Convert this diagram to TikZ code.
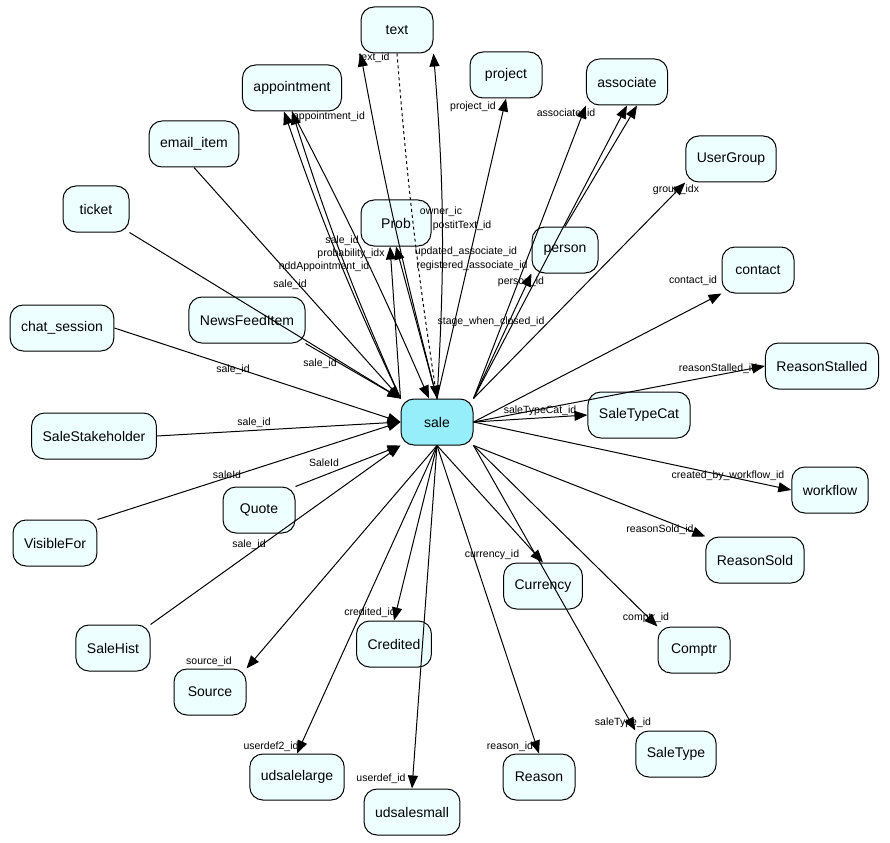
\documentclass[tikz,border=0pt]{standalone}
\usepackage{fontspec}
\setmainfont{Liberation Sans}
\usetikzlibrary{arrows.meta}
\definecolor{lc}{RGB}{238,255,255}
\definecolor{sc}{RGB}{150,238,250}
\begin{document}
\begin{tikzpicture}[x=1pt,y=-1pt,
 ent/.style={draw=black,line width=1pt,rounded corners=13pt,fill=lc,minimum height=46pt,minimum width=66pt,inner xsep=11pt,font=\fontsize{14}{16}\selectfont},
 lab/.style={font=\fontsize{10.5}{12}\selectfont,inner sep=0.5pt},
 e/.style={-{Triangle[length=13pt,width=10pt]},line width=1pt}]
\useasboundingbox (0,0) rectangle (890,842);
\node[ent,fill=sc,minimum width=72pt] (sale) at (437,422) {sale};
\node[ent,minimum width=72pt] (text) at (397,30) {text};
\node[ent] (appointment) at (292,88) {appointment};
\node[ent,minimum width=72pt] (project) at (506,75) {project};
\node[ent] (associate) at (627,82) {associate};
\node[ent] (UserGroup) at (731,159) {UserGroup};
\node[ent] (email) at (194,144) {email\_item};
\node[ent] (ticket) at (96,209) {ticket};
\node[ent,minimum width=70pt] (Prob) at (396,223) {Prob};
\node[ent] (person) at (565,250) {person};
\node[ent,minimum width=72pt] (contact) at (758,270) {contact};
\node[ent] (chat) at (62,328) {chat\_session};
\node[ent] (News) at (247,320) {NewsFeedItem};
\node[ent] (RStalled) at (822,366) {ReasonStalled};
\node[ent] (STC) at (639,415) {SaleTypeCat};
\node[ent] (SSH) at (94,436) {SaleStakeholder};
\node[ent,minimum width=72pt] (workflow) at (830,490) {workflow};
\node[ent,minimum width=72pt] (Quote) at (259,510) {Quote};
\node[ent] (Visible) at (55,543) {VisibleFor};
\node[ent] (RSold) at (755,560) {ReasonSold};
\node[ent] (Currency) at (543,586) {Currency};
\node[ent] (Credited) at (394,644) {Credited};
\node[ent,minimum width=72pt] (Comptr) at (694,650) {Comptr};
\node[ent,minimum width=72pt] (SaleHist) at (113,648) {SaleHist};
\node[ent,minimum width=72pt] (Source) at (210,692) {Source};
\node[ent] (SaleType) at (676,754) {SaleType};
\node[ent] (udl) at (297,777) {udsalelarge};
\node[ent,minimum width=72pt] (Reason) at (539,777) {Reason};
\node[ent] (uds) at (412,812) {udsalesmall};
% edges out of sale
\draw[e] (sale.north) to[bend left=2] (text.south west);
\draw[e] (sale.north) to[bend right=4] (text.south east);
\draw[e,dashed] (text.south) to[bend right=2] (sale.north);
\draw[e] (sale.north west) to[bend left=3] (appointment.south);
\draw[e] (sale.north west) to[bend left=3] ([xshift=-8pt]appointment.south);
\draw[e] (appointment.south) to[bend left=2] ([xshift=-8pt]sale.north);
\draw[e] (sale.north) to (Prob.south);
\draw[e] (sale.north west) to ([xshift=-6pt]Prob.south);
\draw[e] (sale.north) to (project.south);
\draw[e] (sale.north east) to (associate.south west);
\draw[e] (sale.north east) to (associate.south);
\draw[e] (person.north) to ([xshift=10pt]associate.south);
\draw[e] (sale.north east) to (person.south west);
\draw[e] (sale.north east) to (UserGroup.south west);
\draw[e] (sale.east) to (contact.south west);
\draw[e] (sale.east) to (RStalled.west);
\draw[e] (sale.east) to (STC.west);
\draw[e] (sale.east) to (workflow.west);
\draw[e] (sale.south east) to (RSold.north west);
\draw[e] (sale.south) to (Currency.north);
\draw[e] (sale.south east) to (Comptr.north west);
\draw[e] (sale.south east) to (SaleType.north west);
\draw[e] (sale.south) to (Reason.north);
\draw[e] (sale.south) to (uds.north);
\draw[e] (sale.south) to (udl.north);
\draw[e] (sale.south) to (Credited.north);
\draw[e] (sale.south) to (Source.north east);
% edges into sale
\draw[e] (SaleHist.north east) to (sale.south west);
\draw[e] (Visible.north east) to (sale.west);
\draw[e] (Quote.north east) to (sale.south west);
\draw[e] (SSH.east) to (sale.west);
\draw[e] (chat.east) to (sale.west);
\draw[e] (News.south east) to (sale.north west);
\draw[e] (ticket.south east) to (sale.north west);
\draw[e] (email.south) to (sale.north west);
% labels
\node[lab] at (374,58) {text\_id};
\node[lab] at (329,117) {appointment\_id};
\node[lab] at (473,107) {project\_id};
\node[lab] at (566,114) {associate\_id};
\node[lab] at (676,190) {group\_idx};
\node[lab] at (441,212) {owner\_ic};
\node[lab] at (462,226) {postitText\_id};
\node[lab] at (342,241) {sale\_id};
\node[lab] at (351,254) {probability\_idx};
\node[lab] at (324,267) {nddAppointment\_id};
\node[lab] at (290,285) {sale\_id};
\node[lab] at (466,252) {updated\_associate\_id};
\node[lab] at (472,266) {registered\_associate\_id};
\node[lab] at (521,282) {person\_id};
\node[lab] at (491,322) {stage\_when\_closed\_id};
\node[lab] at (693,281) {contact\_id};
\node[lab] at (718,369) {reasonStalled\_id};
\node[lab] at (540,411) {saleTypeCat\_id};
\node[lab] at (320,364) {sale\_id};
\node[lab] at (233,370) {sale\_id};
\node[lab] at (254,423) {sale\_id};
\node[lab] at (324,463) {SaleId};
\node[lab] at (227,475) {saleId};
\node[lab] at (249,545) {sale\_id};
\node[lab] at (728,476) {created\_by\_workflow\_id};
\node[lab] at (660,530) {reasonSold\_id};
\node[lab] at (492,555) {currency\_id};
\node[lab] at (646,618) {comptr\_id};
\node[lab] at (370,613) {credited\_id};
\node[lab] at (209,662) {source\_id};
\node[lab] at (623,723) {saleType\_id};
\node[lab] at (271,747) {userdef2\_id};
\node[lab] at (510,747) {reason\_id};
\node[lab] at (381,779) {userdef\_id};
\end{tikzpicture}
\end{document}
